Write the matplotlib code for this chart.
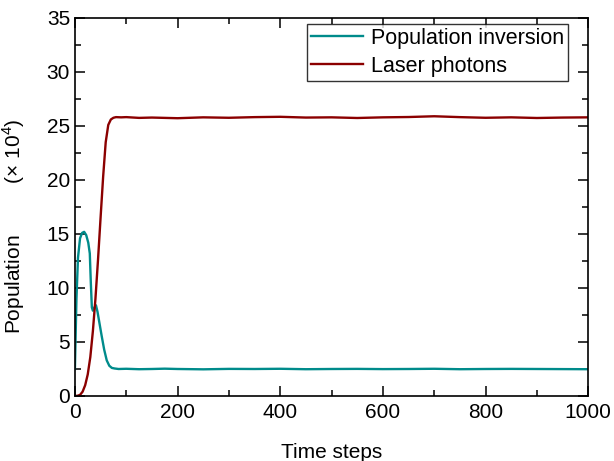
import matplotlib
matplotlib.use("Agg")
import matplotlib.pyplot as plt
from matplotlib.ticker import MultipleLocator

plt.rcParams["font.family"] = ["Liberation Sans", "DejaVu Sans"]
plt.rcParams["mathtext.fontset"] = "custom"
plt.rcParams["mathtext.rm"] = "Liberation Sans"

# population inversion (x 10^4)
t_inv = [0, 3, 6, 10, 14, 18, 22, 26, 29, 31, 33, 35, 38, 41, 44, 48, 52, 57, 62, 67, 72, 77,
         85, 100, 125, 150, 175, 200, 250, 300, 350, 400, 450, 500, 550, 600, 650, 700,
         750, 800, 850, 900, 950, 1000]
inversion = [2.5, 9.0, 12.8, 14.6, 15.1, 15.2, 14.9, 14.2, 13.2, 10.5, 8.2, 7.9, 8.2, 8.4, 7.8,
             6.7, 5.6, 4.3, 3.3, 2.8, 2.6, 2.55, 2.5, 2.52, 2.48, 2.5, 2.53, 2.5, 2.47, 2.51,
             2.5, 2.52, 2.48, 2.5, 2.51, 2.49, 2.5, 2.52, 2.48, 2.5, 2.51, 2.5, 2.49, 2.48]

# laser photons (x 10^4)
t_las = [0, 5, 10, 15, 20, 25, 30, 35, 40, 45, 50, 55, 60, 65, 70, 75, 80, 90, 100,
         125, 150, 200, 250, 300, 350, 400, 450, 500, 550, 600, 650, 700, 750, 800, 850,
         900, 950, 1000]
photons = [0.0, 0.02, 0.1, 0.4, 1.0, 2.0, 3.6, 6.0, 9.0, 12.6, 16.5, 20.3, 23.5, 25.1, 25.6,
           25.76, 25.82, 25.8, 25.82, 25.75, 25.78, 25.72, 25.8, 25.76, 25.82,
           25.85, 25.78, 25.8, 25.74, 25.8, 25.83, 25.9, 25.82, 25.76, 25.8, 25.74, 25.78,
           25.8]

fig = plt.figure(figsize=(6.14, 4.61), dpi=100)
ax = fig.add_axes([0.122, 0.141, 0.836, 0.82])

ax.plot(t_inv, inversion, color="#008b8b", lw=1.7, label="Population inversion")
ax.plot(t_las, photons, color="#8b0000", lw=1.7, label="Laser photons")

ax.set_xlim(0, 1000)
ax.set_ylim(0, 35)
ax.xaxis.set_major_locator(MultipleLocator(200))
ax.xaxis.set_minor_locator(MultipleLocator(100))
ax.yaxis.set_major_locator(MultipleLocator(5))
ax.yaxis.set_minor_locator(MultipleLocator(2.5))
ax.tick_params(which="both", direction="in", top=True, right=True, width=1.1, labelsize=15)
ax.tick_params(which="major", length=7)
ax.tick_params(which="minor", length=4)
ax.tick_params(axis="x", pad=5)
for s in ax.spines.values():
    s.set_linewidth(1.2)

ax.set_xlabel("Time steps", fontsize=15)
ax.xaxis.set_label_coords(0.5, -0.124)
ax.set_ylabel("Population         ($\\times$ 10$^4$)", fontsize=15)
ax.yaxis.set_label_coords(-0.094, 0.45)

leg = ax.legend(loc="upper right", bbox_to_anchor=(0.961, 0.984), fontsize=15.5,
                frameon=True, fancybox=False, edgecolor="black", handlelength=2.4,
                borderpad=0.17, labelspacing=0.34, handletextpad=0.4, borderaxespad=0)
leg.get_frame().set_linewidth(1.0)

plt.savefig("out.png", dpi=100)
plt.close()
